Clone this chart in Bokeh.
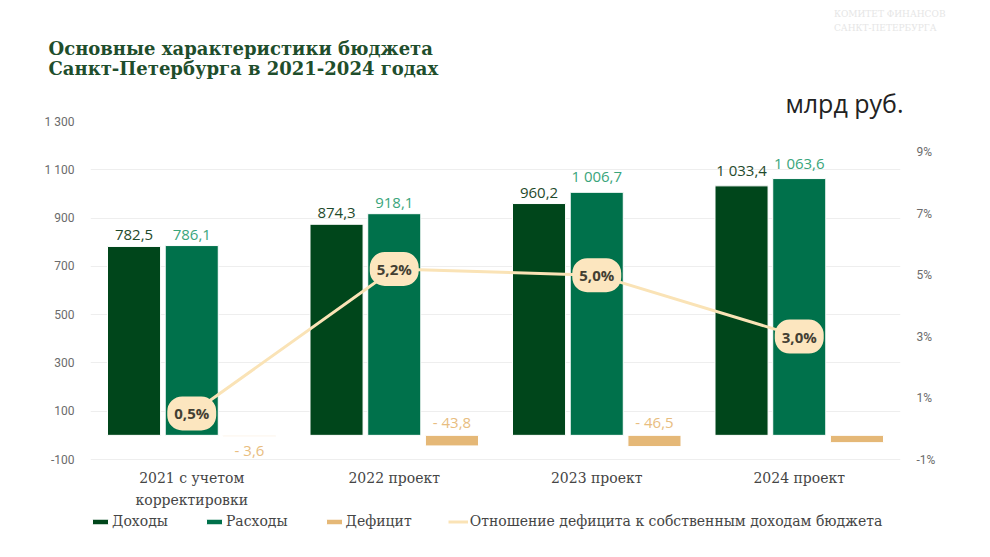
from bokeh.plotting import figure
from bokeh.models import (FactorRange, Range1d, LinearAxis, FixedTicker, ColumnDataSource,
                          Legend, LegendItem, Title)
from bokeh.transform import dodge
from bokeh.core.properties import value
from bokeh.embed import file_html
from bokeh.resources import INLINE

# ---------------- data ----------------
categories = ["2021 с учетом\nкорректировки", "2022 проект", "2023 проект", "2024 проект"]
income = [782.5, 874.3, 960.2, 1033.4]          # Доходы
expenses = [786.1, 918.1, 1006.7, 1063.6]       # Расходы
deficit = [-3.6, -43.8, -46.5, -30.2]           # Дефицит
deficit_label_shown = [True, True, True, False]
ratio = [0.5, 5.2, 5.0, 3.0]                    # Отношение дефицита, %
left_ticks = [-100, 100, 300, 500, 700, 900, 1100, 1300]
left_tick_labels = ["-100", "100", "300", "500", "700", "900", "1 100", "1 300"]
right_ticks = [-1, 1, 3, 5, 7, 9]
right_tick_labels = ["-1%", "1%", "3%", "5%", "7%", "9%"]
series_names = ["Доходы", "Расходы", "Дефицит", "Отношение дефицита к собственным доходам бюджета"]
title_lines = ["Основные характеристики бюджета", "Санкт-Петербурга в 2021-2024 годах"]
unit_text = "млрд руб."
logo_lines = ["КОМИТЕТ ФИНАНСОВ", "САНКТ-ПЕТЕРБУРГА"]

# ---------------- style / layout ----------------
C_INC = "#00461B"
C_EXP = "#00714B"
C_DEF = "#E5B877"
C_LINE = "#FAE3B6"
C_PILL = "#FCE6BF"
SERIF = "DejaVu Serif"
SANS = "Open Sans"

W_PX, H_PX = 990, 557
FRAME_TOP, AXIS_BOTTOM = 121, 459          # pixel rows of the value-axis extremes
LEFT_MIN, LEFT_MAX = -100, 1300
PCT_MIN, PCT_MAX = -1, 10
# the frame runs down to the bottom of the canvas, so that category labels and the
# legend can live inside it; ranges are extended so the axes keep their scale
px_per_unit = (AXIS_BOTTOM - FRAME_TOP) / (LEFT_MAX - LEFT_MIN)
px_per_pct = (AXIS_BOTTOM - FRAME_TOP) / (PCT_MAX - PCT_MIN)
extra_px = H_PX - AXIS_BOTTOM
y_start = LEFT_MIN - extra_px / px_per_unit
pct_start = PCT_MIN - extra_px / px_per_pct


def fmt(v):
    return f"{abs(v):,.1f}".replace(",", " ").replace(".", ",")


src = ColumnDataSource(dict(
    cat=categories,
    income=income,
    expenses=expenses,
    deficit=deficit,
    ratio=ratio,
    axis_y=[LEFT_MIN] * len(categories),
    inc_lbl=[fmt(v) for v in income],
    exp_lbl=[fmt(v) for v in expenses],
    ratio_lbl=[f"{v:.1f}%".replace(".", ",") for v in ratio],
))

p = figure(width=W_PX, height=H_PX, x_range=FactorRange(factors=categories),
           y_range=Range1d(y_start, LEFT_MAX), output_backend="svg", toolbar_location=None,
           min_border_left=90, min_border_right=90, min_border_top=FRAME_TOP, min_border_bottom=0)
p.extra_y_ranges = {"pct": Range1d(pct_start, PCT_MAX)}
p.outline_line_color = None
p.background_fill_color = "white"
p.border_fill_color = "white"
p.xaxis.visible = False

OFF = 0.285
W = 0.262
r_inc = p.vbar(x=dodge("cat", -OFF, range=p.x_range), top="income", bottom=0, width=W,
               fill_color=C_INC, line_color="white", line_width=1, source=src)
r_exp = p.vbar(x=dodge("cat", 0, range=p.x_range), top="expenses", bottom=0, width=W,
               fill_color=C_EXP, line_color="white", line_width=1, source=src)
r_def = p.vbar(x=dodge("cat", OFF, range=p.x_range), top="deficit", bottom=0, width=W,
               fill_color=C_DEF, line_color="white", line_width=1, source=src)

# value labels
p.text(x=dodge("cat", -OFF, range=p.x_range), y="income", text="inc_lbl", source=src,
       text_align="center", text_baseline="bottom", y_offset=-6,
       text_font=value(SANS), text_font_size="15px", text_color="#1F4A2C")
p.text(x=dodge("cat", 0, range=p.x_range), y="expenses", text="exp_lbl", source=src,
       text_align="center", text_baseline="bottom", y_offset=-6,
       text_font=value(SANS), text_font_size="15px", text_color="#3AA57B")

# deficit labels: small deficit below its bar, larger ones above the zero line
below = dict(cat=[], y=[], t=[])
above = dict(cat=[], y=[], t=[])
for c, v, s in zip(categories, deficit, deficit_label_shown):
    if not s:
        continue
    d = below if abs(v) < 10 else above
    d["cat"].append(c)
    d["y"].append(v if d is below else 0)
    d["t"].append("- " + fmt(v))
p.text(x=dodge("cat", OFF, range=p.x_range), y="y", text="t", source=ColumnDataSource(below),
       text_align="center", text_baseline="top", y_offset=4,
       text_font=value(SANS), text_font_size="15px", text_color="#E8BD80")
p.text(x=dodge("cat", OFF, range=p.x_range), y="y", text="t", source=ColumnDataSource(above),
       text_align="center", text_baseline="bottom", y_offset=-3,
       text_font=value(SANS), text_font_size="15px", text_color="#E8BD80")

# ratio line with pills
r_line = p.line(x="cat", y="ratio", y_range_name="pct", source=src,
                line_color=C_LINE, line_width=3)
p.text(x="cat", y="ratio", y_range_name="pct", text="ratio_lbl", source=src,
       text_align="center", text_baseline="middle",
       text_font=value(SANS), text_font_size="15px", text_font_style="bold",
       text_color="#433F33", background_fill_color=C_PILL, border_radius=15, padding=7)

# category labels under the value axis
p.text(x="cat", y="axis_y", text="cat", source=src, text_align="center", text_baseline="top",
       y_offset=10, text_line_height=1.43,
       text_font=value(SERIF), text_font_size="14px", text_color="#454545")

# value axes
p.yaxis.ticker = FixedTicker(ticks=left_ticks)
p.yaxis.major_label_overrides = dict(zip(left_ticks, left_tick_labels))
ax_r = LinearAxis(y_range_name="pct", ticker=FixedTicker(ticks=right_ticks),
                  major_label_overrides=dict(zip(right_ticks, right_tick_labels)))
p.add_layout(ax_r, "right")
for ax in (p.yaxis[0], ax_r):
    ax.axis_line_color = None
    ax.major_tick_line_color = None
    ax.minor_tick_line_color = None
    ax.major_label_text_color = "#6B6B6B"
    ax.major_label_text_font = "Roboto"
    ax.major_label_text_font_size = "12px"
    ax.major_label_standoff = 10

p.xgrid.grid_line_color = None
p.ygrid.ticker = FixedTicker(ticks=left_ticks)
p.ygrid.grid_line_color = "#EEEEEE"

# legend (inside the extended frame, under the category labels)
legend = Legend(items=[LegendItem(label=n, renderers=[r]) for n, r in
                       zip(series_names, [r_inc, r_exp, r_def, r_line])],
                location=(0, 28), orientation="horizontal", glyph_width=20, glyph_height=7,
                label_height=16, label_standoff=2, padding=0, margin=0, spacing=36,
                border_line_color=None, background_fill_alpha=0,
                label_text_font=SERIF, label_text_font_size="14px", label_text_color="#454545")
p.add_layout(legend, "center")

# titles (stacked outward from the frame)
p.add_layout(Title(text=unit_text, align="right", offset=-3, standoff=3,
                   text_font=SANS, text_font_style="normal", text_font_size="25px",
                   text_color="#222222"), "above")
p.add_layout(Title(text="\n".join(title_lines), align="left", offset=-42, standoff=7,
                   text_font=SERIF, text_font_style="bold", text_font_size="18px",
                   text_line_height=0.97, text_color="#1F4E2C"), "above")
p.add_layout(Title(text="\n".join(logo_lines), align="right", offset=-45, standoff=0,
                   text_font=SERIF, text_font_style="normal", text_font_size="9px",
                   text_line_height=1.4, text_color="#E6E6E6"), "above")

open("out.html", "w").write(file_html(p, INLINE))
